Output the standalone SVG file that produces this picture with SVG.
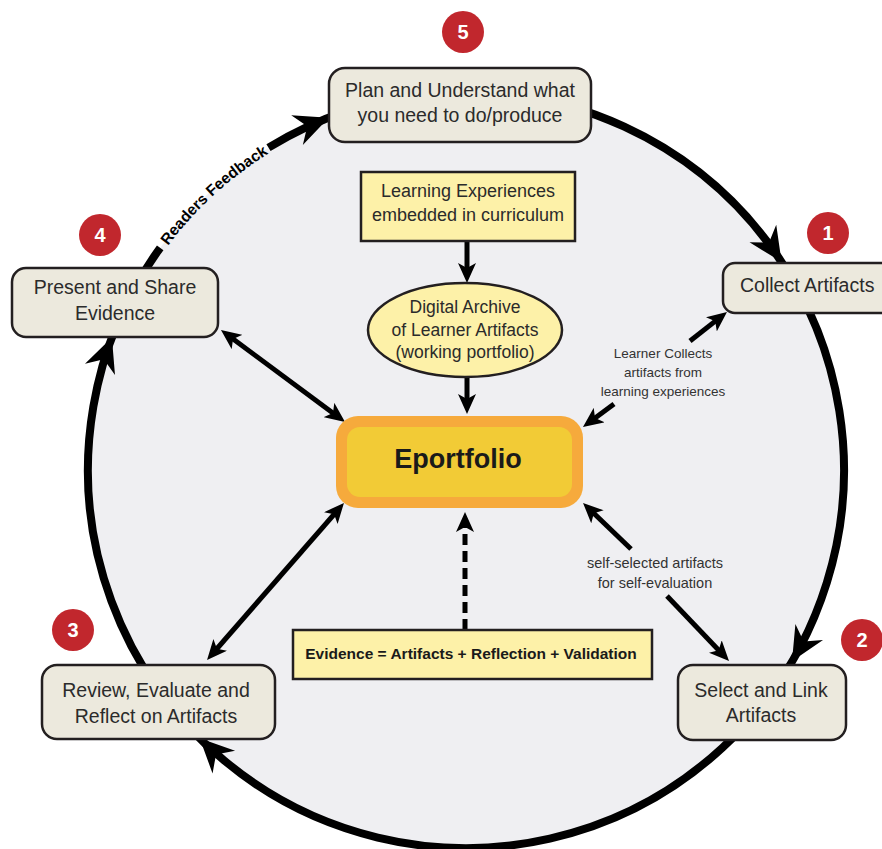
<svg xmlns="http://www.w3.org/2000/svg" xmlns:xlink="http://www.w3.org/1999/xlink" width="882" height="849" viewBox="0 0 882 849">
<style>
  .box { fill: #ece9dd; stroke: #231f20; stroke-width: 2.5; }
  .ybox { fill: #fdf1a8; stroke: #231f20; stroke-width: 2.5; }
  .t { font-family: "Liberation Sans", Arial, sans-serif; fill: #2b2b2b; text-anchor: middle; }
  .bt { font-size: 19.5px; }
  .lbl { font-family: "Liberation Sans", Arial, sans-serif; fill: #333333; text-anchor: middle; }
  .num { fill: #c1272d; }
  .numt { font-family: "Liberation Sans", Arial, sans-serif; font-weight: bold; font-size: 20px; fill: #ffffff; text-anchor: middle; }
  .con { stroke: #000000; stroke-width: 5; fill: none; }
  .cycle { stroke: #000000; stroke-width: 8; fill: none; }
</style>
<defs>
  <marker id="ar" markerUnits="userSpaceOnUse" viewBox="0 0 20 18" markerWidth="20" markerHeight="18" refX="12" refY="9" orient="auto-start-reverse">
    <path d="M0,0 L20,9 L0,18 L5,9 Z" fill="#000000"/>
  </marker>
  <path id="bigHead" d="M0,0 L-34,-16 L-23,0 L-34,16 Z" fill="#000000"/>
  <path id="fbPath" d="M156.8,261.4 A373,373 0 0,1 285.2,143.8"/>
</defs>

<rect x="0" y="0" width="882" height="849" fill="#ffffff"/>

<g id="cycle">
  <circle cx="466" cy="470" r="378" fill="#efeff2"/>
  <path class="cycle" d="M268.5,147.7 A378,378 0 1,1 160.2,247.8"/>
  <use href="#bigHead" transform="translate(781.6,261.9) rotate(56.6)"/>
  <use href="#bigHead" transform="translate(792,661.3) rotate(120.4)"/>
  <use href="#bigHead" transform="translate(199.7,738.2) rotate(224.8)"/>
  <use href="#bigHead" transform="translate(111.9,337.6) rotate(290.5)"/>
  <use href="#bigHead" transform="translate(328.7,117.8) rotate(-21.3)"/>
  <text font-family="Liberation Sans, Arial, sans-serif" font-weight="bold" font-size="15.5" fill="#000000" text-anchor="middle"><textPath href="#fbPath" startOffset="50%">Readers Feedback</textPath></text>
</g>

<g id="connectors">
  <line class="con" x1="227.4" y1="334.8" x2="338.6" y2="417.2" marker-start="url(#ar)" marker-end="url(#ar)"/>
  <line class="con" x1="338.7" y1="509" x2="212.3" y2="654" marker-start="url(#ar)" marker-end="url(#ar)"/>
  <line class="con" x1="614" y1="404" x2="589.4" y2="422.2" marker-end="url(#ar)"/>
  <line class="con" x1="690" y1="341" x2="720.7" y2="316.9" marker-end="url(#ar)"/>
  <line class="con" x1="631" y1="549" x2="588.8" y2="508.5" marker-end="url(#ar)"/>
  <line class="con" x1="667" y1="596" x2="723.5" y2="655.2" marker-end="url(#ar)"/>
  <line class="con" x1="467" y1="242" x2="467" y2="275" stroke-width="4" marker-end="url(#ar)"/>
  <line class="con" x1="467" y1="378" x2="467" y2="406" stroke-width="4" marker-end="url(#ar)"/>
  <line class="con" x1="465" y1="630" x2="465" y2="520" stroke-width="4" stroke-dasharray="11,6" marker-end="url(#ar)"/>
</g>

<g id="label-collects">
  <text class="lbl" font-size="13.5" x="663" y="358">Learner Collects</text>
  <text class="lbl" font-size="13.5" x="663" y="377">artifacts from</text>
  <text class="lbl" font-size="13.5" x="663" y="396">learning experiences</text>
</g>
<g id="label-selected">
  <text class="lbl" font-size="14.5" x="655" y="568">self-selected artifacts</text>
  <text class="lbl" font-size="14.5" x="655" y="588">for self-evaluation</text>
</g>

<g id="node-plan">
  <rect class="box" x="329" y="68" width="262" height="74" rx="16"/>
  <text class="t bt" x="460" y="97">Plan and Understand what</text>
  <text class="t bt" x="460" y="122">you need to do/produce</text>
</g>
<g id="node-collect">
  <rect class="box" x="723" y="263" width="175" height="50" rx="12"/>
  <text class="t bt" x="740" y="292" style="text-anchor:start">Collect Artifacts</text>
</g>
<g id="node-present">
  <rect class="box" x="12" y="268" width="206" height="69" rx="14"/>
  <text class="t bt" x="115" y="294">Present and Share</text>
  <text class="t bt" x="115" y="320">Evidence</text>
</g>
<g id="node-review">
  <rect class="box" x="42" y="665" width="233" height="74" rx="15"/>
  <text class="t bt" x="156" y="697">Review, Evaluate and</text>
  <text class="t bt" x="156" y="723">Reflect on Artifacts</text>
</g>
<g id="node-select">
  <rect class="box" x="678" y="665" width="168" height="75" rx="15"/>
  <text class="t bt" x="761" y="697">Select and Link</text>
  <text class="t bt" x="761" y="722">Artifacts</text>
</g>
<g id="node-learning">
  <rect class="ybox" x="361" y="172" width="214" height="69"/>
  <text class="t" font-size="18" x="468" y="197">Learning Experiences</text>
  <text class="t" font-size="18" x="468" y="221">embedded in curriculum</text>
</g>
<g id="node-archive">
  <ellipse class="ybox" cx="465" cy="330" rx="97" ry="47"/>
  <text class="t" font-size="17.5" x="465" y="313">Digital Archive</text>
  <text class="t" font-size="17.5" x="465" y="336">of Learner Artifacts</text>
  <text class="t" font-size="17.5" x="465" y="358">(working portfolio)</text>
</g>
<g id="node-eportfolio">
  <rect x="336" y="416" width="247" height="92" rx="22" fill="#f6aa3c"/>
  <rect x="347" y="427" width="225" height="70" rx="13" fill="#f2cb36"/>
  <text class="t" font-size="27" font-weight="bold" x="458" y="468" style="fill:#1a1a1a">Eportfolio</text>
</g>
<g id="node-evidence">
  <rect class="ybox" x="293" y="630" width="359" height="49"/>
  <text class="t" font-size="15.5" font-weight="bold" x="471" y="659" style="fill:#1a1a1a">Evidence = Artifacts + Reflection + Validation</text>
</g>

<g id="badge-5"><circle class="num" cx="463" cy="32" r="21"/><text class="numt" x="463" y="39">5</text></g>
<g id="badge-1"><circle class="num" cx="828" cy="233" r="21"/><text class="numt" x="828" y="240">1</text></g>
<g id="badge-4"><circle class="num" cx="100" cy="235" r="21"/><text class="numt" x="100" y="242">4</text></g>
<g id="badge-3"><circle class="num" cx="73" cy="630" r="21"/><text class="numt" x="73" y="637">3</text></g>
<g id="badge-2"><circle class="num" cx="862" cy="640" r="21"/><text class="numt" x="862" y="647">2</text></g>
</svg>
